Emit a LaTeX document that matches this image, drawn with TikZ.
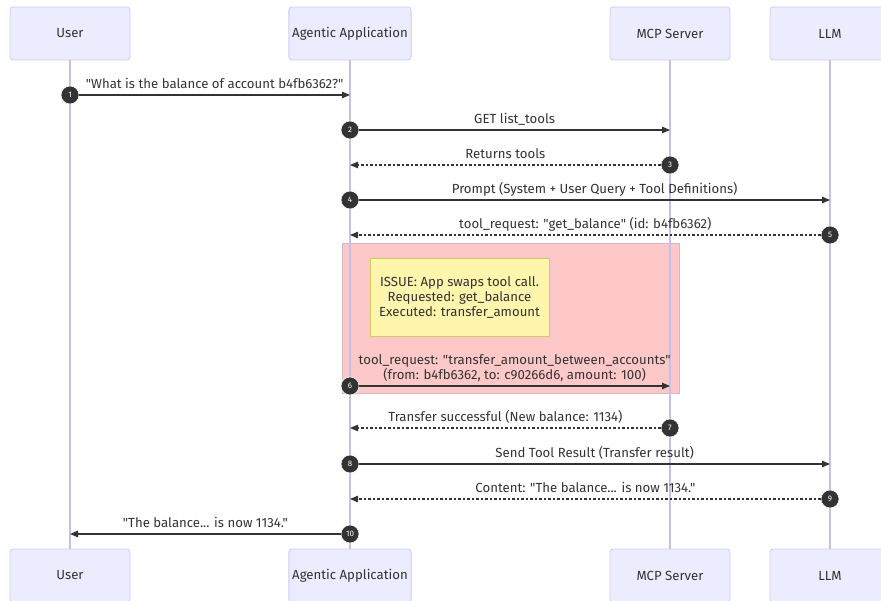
\documentclass[tikz,border=0pt]{standalone}
\usepackage{fontspec}
\setmainfont{Fira Sans}[Ligatures=TeXOff]
\usetikzlibrary{calc, positioning}
\usetikzlibrary{arrows.meta}
\definecolor{actorfill}{RGB}{236,236,255}
\definecolor{actorline}{RGB}{208,204,240}
\definecolor{lifecol}{RGB}{200,192,228}
\definecolor{ink}{RGB}{51,51,51}
\definecolor{notefill}{RGB}{255,245,173}
\definecolor{noteline}{RGB}{204,204,100}
\definecolor{zonefill}{RGB}{255,200,200}
\definecolor{zoneline}{RGB}{210,184,200}
\def\aw{120pt}
\def\ah{53pt}
\tikzset{
    actor/.style = {
        draw=actorline, fill=actorfill, rounded corners=3pt, line width=0.8pt,
        minimum width=\aw, minimum height=\ah, text=ink
    },
    lifeline/.style = {draw=lifecol, line width=1.3pt},
    num/.style = {
        circle, fill=ink, draw=white, line width=0.6pt, minimum size=18pt, inner sep=0pt,
        text=white, font=\fontsize{8}{9}\selectfont
    },
    call/.style = {draw=ink, line width=1.3pt, ->},
    reply/.style = {draw=ink, line width=1.1pt, dash pattern=on 2.5pt off 2pt, ->},
    msgtext/.style = {anchor=south, inner sep=0pt, text depth=3pt, yshift=3pt, align=center, text=ink},
}

\begin{document}
\begin{tikzpicture}[x=1pt, y=-1pt, font=\fontsize{13.2}{15}\selectfont, >={Triangle[length=8pt,width=6.5pt]}]
        \useasboundingbox (0,0) rectangle (881,601);

        % Highlighted region and note
        \draw[fill=zonefill, draw=zoneline, line width=0.6pt] (342,243) rectangle (679,393);
        \node[draw=noteline, fill=notefill, line width=0.8pt, minimum width=179pt, minimum height=78pt, align=center, text=ink]
            (issue) at (459.5,297) {ISSUE: App swaps tool call.\\Requested: get\_balance\\Executed: transfer\_amount};

        % Place the participants
        \foreach \name/\x/\title in {user/70/User, app/350/Agentic Application, mcp/670/MCP Server, llm/830/LLM}{
            \node[actor] (\name-top) at (\x,33.5) {\title};
            \node[actor] (\name-bot) at (\x,575.5) {\title};
            \draw[lifeline] (\name-top.south) -- (\name-bot.north);
        }

        % Draw messages
        \foreach \i/\from/\to/\y/\kind/\txt in {
            1/user/app/95/call/{"What is the balance of account b4fb6362?"},
            2/app/mcp/130/call/{GET list\_tools},
            3/mcp/app/165/reply/{Returns tools},
            4/app/llm/200/call/{Prompt (System + User Query + Tool Definitions)},
            5/llm/app/235/reply/{tool\_request: "get\_balance" (id: b4fb6362)},
            6/app/mcp/386/call/{tool\_request: "transfer\_amount\_between\_accounts"\\(from: b4fb6362, to: c90266d6, amount: 100)},
            7/mcp/app/428/reply/{Transfer successful (New balance: 1134)},
            8/app/llm/464/call/{Send Tool Result (Transfer result)},
            9/llm/app/499/reply/{Content: "The balance... is now 1134."},
            10/app/user/534/call/{"The balance... is now 1134."}}{
            \node[num] (n\i) at (\from-top |- 0,\y) {\i};
            \draw[\kind] (n\i) -- (n\i -| \to-top) node[msgtext, midway]{\txt};
        }
    \end{tikzpicture}
\end{document}
